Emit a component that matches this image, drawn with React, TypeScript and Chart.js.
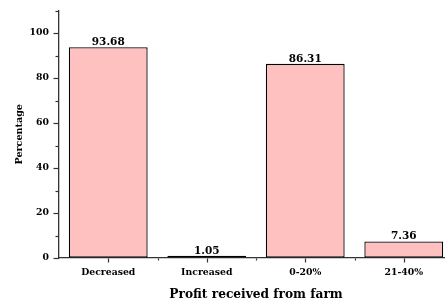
import React, { useEffect, useRef } from "react";
import { Chart, registerables } from "chart.js";

Chart.register(...registerables);

const categories: string[] = ["Decreased", "Increased", "0-20%", "21-40%"];
const percentages: number[] = [93.68, 1.05, 86.31, 7.36];
const yTickValues: number[] = [0, 20, 40, 60, 80, 100];
const xTitle = "Profit received from farm";
const yTitle = "Percentage";

const FONT = "'DejaVu Serif', 'Liberation Serif', serif";

const tickMarks = {
  id: "tickMarks",
  afterDraw(chart: any) {
    const ctx = chart.ctx;
    const ys = chart.scales.y;
    const xs = chart.scales.x;
    const area = chart.chartArea;
    ctx.save();
    ctx.strokeStyle = "#333";
    ctx.lineWidth = 1.2;
    const x0 = Math.round(area.left) - 0.5;
    for (let v = 0; v <= 110; v += 10) {
      const y = Math.round(ys.getPixelForValue(v)) + 0.5;
      const len = yTickValues.includes(v) ? 5 : 3;
      ctx.beginPath();
      ctx.moveTo(x0 - len, y);
      ctx.lineTo(x0, y);
      ctx.stroke();
    }
    const yb = Math.round(area.bottom) + 0.5;
    for (let i = 0; i < categories.length; i++) {
      const xc = Math.round(xs.getPixelForValue(i)) + 0.5;
      ctx.beginPath();
      ctx.moveTo(xc, yb);
      ctx.lineTo(xc, yb + 4);
      ctx.stroke();
      if (i < categories.length - 1) {
        const xm = Math.round(xs.getPixelForValue(i + 0.5)) + 0.5;
        ctx.beginPath();
        ctx.moveTo(xm, yb);
        ctx.lineTo(xm, yb + 2);
        ctx.stroke();
      }
    }
    ctx.restore();
  },
};

const valueLabels = {
  id: "valueLabels",
  afterDatasetsDraw(chart: any) {
    const ctx = chart.ctx;
    const meta = chart.getDatasetMeta(0);
    ctx.save();
    ctx.fillStyle = "#000";
    ctx.font = `bold 10.5px ${FONT}`;
    ctx.textAlign = "center";
    ctx.textBaseline = "alphabetic";
    meta.data.forEach((bar: any, i: number) => {
      const v = chart.data.datasets[0].data[i] as number;
      ctx.fillText(v.toFixed(2), bar.x, bar.y - 2);
    });
    ctx.restore();
  },
};

export default function App() {
  const ref = useRef<HTMLCanvasElement | null>(null);

  useEffect(() => {
    if (!ref.current) return;
    const chart = new Chart(ref.current, {
      type: "bar",
      data: {
        labels: categories,
        datasets: [
          {
            data: percentages,
            backgroundColor: "#FFC0C0",
            borderColor: "#000",
            borderWidth: 1.3,
            borderSkipped: false,
            categoryPercentage: 1,
            barPercentage: 0.8,
          },
        ],
      },
      options: {
        responsive: false,
        animation: false,
        devicePixelRatio: 1,
        layout: { padding: { top: 8, right: 3, left: 0, bottom: 0 } },
        plugins: {
          legend: { display: false },
          tooltip: { enabled: false },
        },
        scales: {
          x: {
            afterFit(scale: any) {
              scale.height = 46;
            },
            grid: {
              display: true,
              drawOnChartArea: false,
              drawTicks: true,
              tickLength: 4,
              color: "rgba(0,0,0,0)",
            },
            border: { display: true, color: "#333", width: 1.3 },
            ticks: {
              color: "#000",
              padding: 5,
              font: { family: FONT, size: 9.3, weight: "bold" },
            },
            title: {
              display: true,
              text: xTitle,
              color: "#000",
              padding: { top: 0, bottom: 1.5 },
              font: { family: FONT, size: 12.2, weight: "bold" },
            },
          },
          y: {
            min: 0,
            max: 110,
            afterFit(scale: any) {
              scale.width = 59;
            },
            grid: {
              display: true,
              drawOnChartArea: false,
              drawTicks: true,
              tickLength: 5,
              color: "rgba(0,0,0,0)",
            },
            border: { display: true, color: "#333", width: 1.3 },
            ticks: {
              stepSize: 10,
              color: "#000",
              padding: 5,
              font: { family: FONT, size: 9.3, weight: "bold" },
              callback: (v: any) => (yTickValues.includes(Number(v)) ? String(v) : ""),
            },
            title: {
              display: true,
              text: yTitle,
              color: "#000",
              padding: { top: 13.5, bottom: 0 },
              font: { family: FONT, size: 9.6, weight: "bold" },
            },
          },
        },
      },
      plugins: [tickMarks, valueLabels],
    });
    return () => chart.destroy();
  }, []);

  return (
    <div
      style={{
        position: "fixed",
        left: 0,
        top: 0,
        width: 445,
        height: 304,
        overflow: "hidden",
        background: "#fff",
      }}
    >
      <canvas ref={ref} width={456} height={304} style={{ display: "block" }} />
    </div>
  );
}
